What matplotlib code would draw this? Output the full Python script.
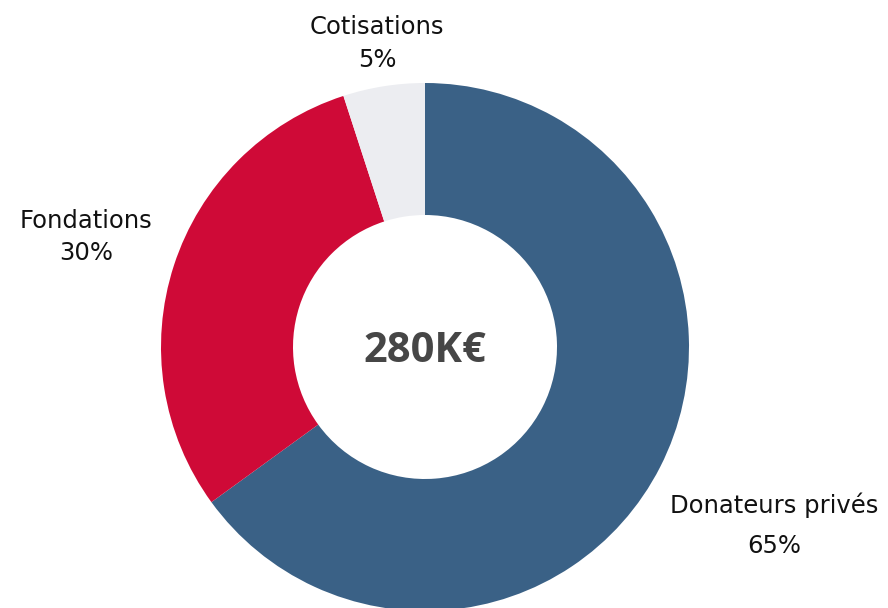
import numpy as np
import matplotlib.pyplot as plt

labels = ['Donateurs privés', 'Fondations', 'Cotisations']
shares = [65, 30, 5]
colors = ['#3a6186', '#cf0a37', '#ecedf1']
total_label = '280K€'

fig = plt.figure(figsize=(8.88, 6.08), dpi=100)
ax = fig.add_axes([0, 0, 1, 1])

cx, cy, R = 425, 261, 264
wedges, _ = ax.pie(shares, colors=colors, startangle=90, counterclock=False,
                   radius=R, center=(cx, cy), wedgeprops=dict(width=R * 0.5, linewidth=0))

ax.text(cx, cy - 5, total_label, ha='center', va='center', fontsize=30,
        fontweight='bold', color='#464646', family='Open Sans')

# label distance from centre (in radii), spacing between name and value
dist = [1.485, 1.35, 1.165]
spacing = [1.85, 1.45, 1.45]
for w, lab, s, d, ls in zip(wedges, labels, shares, dist, spacing):
    ang = np.deg2rad((w.theta1 + w.theta2) / 2)
    x = cx + d * R * np.cos(ang)
    y = cy + d * R * np.sin(ang)
    ax.text(x, y, f'{lab}\n{s}%', ha='center', va='center', fontsize=17.5,
            color='#111111', family='DejaVu Sans', linespacing=ls)

ax.set_xlim(0, 888)
ax.set_ylim(0, 608)
ax.set_aspect('equal')
ax.axis('off')

fig.savefig('out.png', dpi=100)
